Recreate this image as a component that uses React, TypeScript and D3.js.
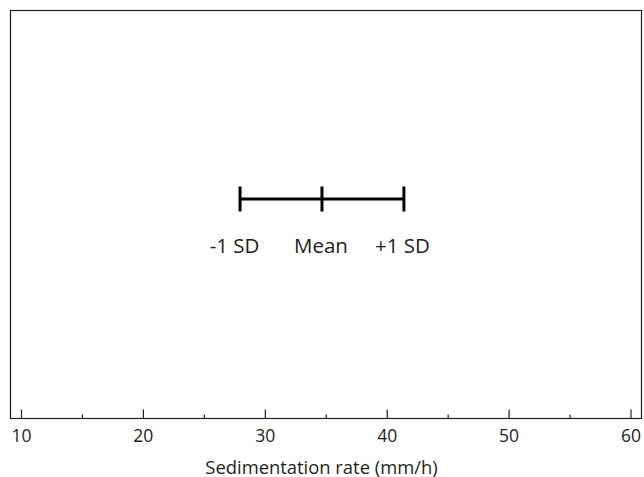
import { useEffect, useRef } from "react";
import * as d3 from "d3";

// summary values
const mean = 34.65;
const sd = 6.72;
const markerLabels = ["-1 SD", "Mean", "+1 SD"];
const majorTicks = [10, 20, 30, 40, 50, 60];
const minorTicks = [15, 25, 35, 45, 55];
const xTitle = "Sedimentation rate (mm/h)";

const W = 644;
const H = 477;
const INK = "#231f20";
const FONT = "'Open Sans', 'Noto Sans', sans-serif";

const App = () => {
    const svgRef = useRef<SVGSVGElement>(null);

    useEffect(() => {
        if (!svgRef.current) return;
        const svg = d3.select(svgRef.current);
        svg.selectAll("*").remove();

        const left = 10.5, right = 641.5, top = 10.5, bottom = 418.5;

        const x = d3.scaleLinear().domain([9.1, 60.86]).range([left, right]);
        const y = d3.scaleLinear().domain([0, 1]).range([bottom, top]);

        // frame
        svg.append("rect")
            .attr("x", left)
            .attr("y", top)
            .attr("width", right - left)
            .attr("height", bottom - top)
            .attr("fill", "none")
            .attr("stroke", INK)
            .attr("stroke-width", 1.2);

        // ticks point inward (up)
        svg.append("g")
            .selectAll("line.major")
            .data(majorTicks)
            .join("line")
            .attr("x1", d => x(d))
            .attr("x2", d => x(d))
            .attr("y1", bottom)
            .attr("y2", bottom - 9)
            .attr("stroke", INK)
            .attr("stroke-width", 1.2);

        svg.append("g")
            .selectAll("line.minor")
            .data(minorTicks)
            .join("line")
            .attr("x1", d => x(d))
            .attr("x2", d => x(d))
            .attr("y1", bottom)
            .attr("y2", bottom - 4)
            .attr("stroke", INK)
            .attr("stroke-width", 1.2);

        svg.append("g")
            .selectAll("text")
            .data(majorTicks)
            .join("text")
            .attr("x", d => x(d))
            .attr("y", 442)
            .attr("text-anchor", "middle")
            .style("font-family", FONT)
            .style("font-size", "17.5px")
            .style("fill", INK)
            .text(d => d);

        // title sits a little left of the axis centre in the original
        svg.append("text")
            .attr("x", (left + right) / 2 - 4.5)
            .attr("y", 473.5)
            .attr("text-anchor", "middle")
            .style("font-family", FONT)
            .style("font-size", "18.4px")
            .style("fill", INK)
            .text(xTitle);

        // mean +/- 1 SD bar
        const rowY = y(0.538);
        const marks = [mean - sd, mean, mean + sd];
        const g = svg.append("g");

        g.append("line")
            .attr("x1", x(marks[0]))
            .attr("x2", x(marks[2]))
            .attr("y1", rowY)
            .attr("y2", rowY)
            .attr("stroke", "#000")
            .attr("stroke-width", 3);

        g.selectAll("line.cap")
            .data(marks)
            .join("line")
            .attr("x1", d => x(d))
            .attr("x2", d => x(d))
            .attr("y1", rowY - 12.5)
            .attr("y2", rowY + 12.5)
            .attr("stroke", "#000")
            .attr("stroke-width", 3);

        const nudge = [-5.5, -1, -1.5];
        g.selectAll("text")
            .data(marks)
            .join("text")
            .attr("x", (d, i) => x(d) + nudge[i])
            .attr("y", 253)
            .attr("text-anchor", "middle")
            .style("font-family", FONT)
            .style("font-size", "20.5px")
            .style("fill", INK)
            .text((d, i) => markerLabels[i]);
    }, []);

    return (
        <svg
            ref={svgRef}
            width={W}
            height={H}
            style={{ position: "absolute", left: 0, top: 0, background: "#fff" }}
        />
    );
};

export default App;
